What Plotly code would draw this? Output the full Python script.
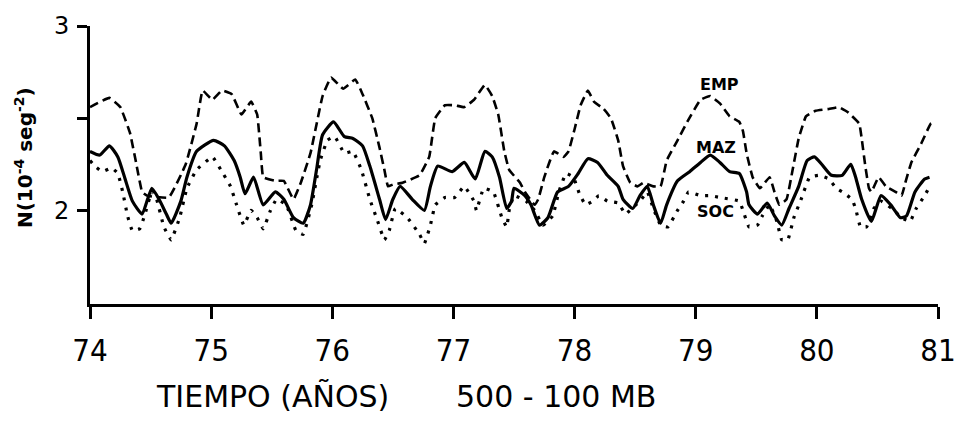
import plotly.graph_objects as go

# ---- data ----
emp_x = [74.00, 74.16, 74.25, 74.33, 74.38, 74.43, 74.47, 74.65, 74.79, 74.88, 74.93, 75.01, 75.09, 75.17,
         75.25, 75.33, 75.38, 75.41, 75.43, 75.53, 75.60, 75.68, 75.74, 75.82, 75.92, 75.99, 76.09, 76.19,
         76.25, 76.33, 76.39, 76.43, 76.46, 76.50, 76.58, 76.72, 76.80, 76.85, 76.93, 77.01, 77.09, 77.17,
         77.26, 77.32, 77.37, 77.42, 77.46, 77.55, 77.59, 77.67, 77.70, 77.75, 77.83, 77.91, 77.95, 78.00,
         78.05, 78.11, 78.16, 78.24, 78.30, 78.36, 78.40, 78.46, 78.52, 78.57, 78.65, 78.71, 78.76, 78.85,
         78.93, 79.04, 79.12, 79.20, 79.28, 79.36, 79.39, 79.42, 79.47, 79.53, 79.61, 79.65, 79.69, 79.75,
         79.80, 79.85, 79.91, 79.99, 80.10, 80.18, 80.26, 80.35, 80.37, 80.40, 80.43, 80.45, 80.51, 80.57,
         80.65, 80.70, 80.73, 80.78, 80.86, 80.94, 80.98]
emp_y = [2.56, 2.61, 2.56, 2.42, 2.26, 2.10, 2.08, 2.07, 2.25, 2.47, 2.65, 2.60, 2.65, 2.63,
         2.52, 2.59, 2.52, 2.31, 2.18, 2.16, 2.16, 2.06, 2.15, 2.31, 2.62, 2.72, 2.66, 2.71,
         2.63, 2.50, 2.34, 2.22, 2.13, 2.14, 2.15, 2.19, 2.29, 2.50, 2.57, 2.57, 2.56, 2.60,
         2.68, 2.62, 2.52, 2.32, 2.22, 2.15, 2.10, 2.03, 2.06, 2.18, 2.32, 2.29, 2.32, 2.44,
         2.57, 2.65, 2.59, 2.55, 2.50, 2.38, 2.24, 2.15, 2.13, 2.15, 2.13, 2.13, 2.27, 2.38,
         2.48, 2.60, 2.62, 2.58, 2.51, 2.48, 2.43, 2.31, 2.18, 2.12, 2.18, 2.10, 2.03, 2.06,
         2.22, 2.39, 2.51, 2.54, 2.55, 2.56, 2.53, 2.47, 2.39, 2.24, 2.12, 2.10, 2.18, 2.13,
         2.10, 2.08, 2.15, 2.26, 2.36, 2.47, 2.48]

maz_x = [74.00, 74.08, 74.16, 74.23, 74.29, 74.35, 74.43, 74.51, 74.57, 74.63, 74.67, 74.75, 74.80, 74.88,
         75.02, 75.11, 75.19, 75.24, 75.28, 75.35, 75.43, 75.53, 75.60, 75.68, 75.76, 75.82, 75.87, 75.92,
         76.01, 76.10, 76.17, 76.25, 76.31, 76.39, 76.44, 76.50, 76.56, 76.66, 76.76, 76.81, 76.87, 76.99,
         77.09, 77.18, 77.26, 77.32, 77.38, 77.44, 77.48, 77.50, 77.59, 77.64, 77.71, 77.78, 77.86, 77.95,
         78.03, 78.11, 78.19, 78.27, 78.36, 78.40, 78.48, 78.54, 78.60, 78.65, 78.71, 78.76, 78.85, 78.95,
         79.04, 79.12, 79.20, 79.28, 79.36, 79.42, 79.44, 79.51, 79.59, 79.65, 79.71, 79.77, 79.85, 79.92,
         79.98, 80.04, 80.12, 80.21, 80.28, 80.32, 80.37, 80.45, 80.53, 80.61, 80.69, 80.74, 80.81, 80.89,
         80.93]
maz_y = [2.32, 2.30, 2.35, 2.29, 2.17, 2.05, 1.98, 2.12, 2.06, 1.98, 1.93, 2.05, 2.18, 2.32,
         2.38, 2.35, 2.27, 2.18, 2.09, 2.18, 2.03, 2.10, 2.06, 1.96, 1.93, 2.03, 2.22, 2.41,
         2.48, 2.40, 2.39, 2.35, 2.24, 2.06, 1.95, 2.06, 2.13, 2.06, 2.00, 2.13, 2.24, 2.21,
         2.26, 2.17, 2.32, 2.29, 2.18, 2.01, 2.05, 2.12, 2.08, 2.03, 1.92, 1.96, 2.10, 2.13,
         2.20, 2.28, 2.26, 2.19, 2.13, 2.06, 2.01, 2.08, 2.13, 2.03, 1.93, 2.03, 2.16, 2.21,
         2.26, 2.30, 2.26, 2.21, 2.20, 2.10, 2.03, 1.98, 2.04, 1.97, 1.92, 2.01, 2.13, 2.27,
         2.29, 2.25, 2.19, 2.19, 2.25, 2.18, 2.06, 1.94, 2.08, 2.03, 1.96, 1.97, 2.10, 2.17,
         2.18]

soc_x = [74.00, 74.04, 74.10, 74.18, 74.23, 74.27, 74.31, 74.35, 74.41, 74.45, 74.51, 74.55, 74.61, 74.67,
         74.74, 74.80, 74.88, 75.01, 75.08, 75.16, 75.21, 75.27, 75.33, 75.38, 75.43, 75.49, 75.54, 75.62,
         75.70, 75.76, 75.83, 75.90, 75.96, 76.02, 76.10, 76.17, 76.24, 76.31, 76.37, 76.43, 76.47, 76.52,
         76.62, 76.72, 76.76, 76.81, 76.85, 76.93, 77.01, 77.09, 77.17, 77.19, 77.25, 77.33, 77.40, 77.44,
         77.46, 77.50, 77.60, 77.67, 77.74, 77.82, 77.87, 77.93, 77.99, 78.04, 78.09, 78.15, 78.20, 78.27,
         78.36, 78.42, 78.49, 78.54, 78.60, 78.65, 78.71, 78.77, 78.85, 78.90, 78.94, 79.04, 79.12, 79.20,
         79.36, 79.39, 79.44, 79.51, 79.55, 79.61, 79.67, 79.71, 79.76, 79.81, 79.87, 79.94, 80.02, 80.10,
         80.16, 80.21, 80.29, 80.32, 80.36, 80.41, 80.47, 80.53, 80.62, 80.70, 80.77, 80.82, 80.89, 80.94]
soc_y = [2.27, 2.24, 2.21, 2.23, 2.20, 2.10, 1.97, 1.89, 1.90, 1.97, 2.10, 2.06, 1.91, 1.84,
         1.96, 2.12, 2.22, 2.29, 2.22, 2.13, 2.03, 1.92, 2.00, 1.96, 1.90, 2.00, 2.06, 2.03,
         1.89, 1.87, 2.03, 2.27, 2.38, 2.40, 2.31, 2.32, 2.22, 2.06, 1.95, 1.84, 1.89, 2.01,
         1.96, 1.87, 1.82, 1.92, 2.03, 2.07, 2.07, 2.13, 2.05, 2.00, 2.12, 2.10, 1.96, 1.91,
         2.00, 2.08, 2.05, 2.00, 1.92, 1.97, 2.10, 2.20, 2.18, 2.09, 2.03, 2.05, 2.08, 2.05,
         2.04, 1.98, 2.02, 2.05, 2.10, 2.01, 1.92, 1.91, 2.00, 2.05, 2.10, 2.08, 2.08, 2.07,
         2.05, 2.00, 1.91, 1.92, 1.97, 2.03, 1.94, 1.84, 1.84, 1.96, 2.06, 2.18, 2.19, 2.17,
         2.12, 2.10, 2.06, 2.01, 1.91, 1.91, 2.01, 2.05, 2.01, 1.96, 1.94, 2.01, 2.08, 2.14]

x_ticks = [74, 75, 76, 77, 78, 79, 80, 81]
y_ticks = [2, 2.5, 3]
y_ticktext = ["2", "", "3"]

series_labels = ["EMP", "MAZ", "SOC"]
label_x = [79.20, 79.17, 79.16]
label_y = [2.68, 2.34, 1.995]

BLACK = "#000000"
fig = go.Figure()
fig.add_trace(go.Scatter(x=emp_x, y=emp_y, mode="lines", name="EMP",
                         line=dict(color=BLACK, width=2.6, dash="9px,5px", shape="spline", smoothing=0.3)))
fig.add_trace(go.Scatter(x=maz_x, y=maz_y, mode="lines", name="MAZ",
                         line=dict(color=BLACK, width=3.2, shape="spline", smoothing=0.5)))
fig.add_trace(go.Scatter(x=soc_x, y=soc_y, mode="lines", name="SOC",
                         line=dict(color=BLACK, width=3.2, dash="3px,7px", shape="spline", smoothing=0.3)))

for t, lx, ly in zip(series_labels, label_x, label_y):
    fig.add_annotation(x=lx, y=ly, text="<b>%s</b>" % t, showarrow=False,
                       font=dict(family="DejaVu Sans, Arial", size=16, color=BLACK))

fig.add_annotation(xref="paper", yref="paper", x=0.076, y=-0.333, xanchor="left", yanchor="middle",
                   text="TIEMPO (AÑOS)&nbsp;&nbsp;&nbsp;&nbsp;&nbsp;&nbsp;&nbsp;500 - 100 MB", showarrow=False,
                   font=dict(family="DejaVu Sans, Arial", size=30, color=BLACK))
fig.add_annotation(xref="paper", yref="paper", x=-0.078, y=0.528, xanchor="center", yanchor="middle",
                   text="<b>N(10<sup>-4</sup> seg<sup>-2</sup>)</b>", textangle=-90, showarrow=False,
                   font=dict(family="DejaVu Sans, Arial", size=20, color=BLACK))

fig.update_layout(
    width=968, height=426,
    margin=dict(l=90, r=23, t=16, b=122),
    paper_bgcolor="white", plot_bgcolor="white",
    showlegend=False,
    xaxis=dict(range=[74, 81], tickvals=x_ticks, ticktext=[str(v) for v in x_ticks],
               showgrid=False, zeroline=False, showline=True, linecolor=BLACK, linewidth=3,
               ticks="outside", ticklen=12, tickwidth=2.5, tickcolor=BLACK, ticklabelstandoff=5,
               tickfont=dict(family="DejaVu Sans Condensed, DejaVu Sans, Arial", size=31, color=BLACK)),
    yaxis=dict(range=[1.492, 3.0], tickvals=y_ticks, ticktext=y_ticktext,
               showgrid=False, zeroline=False, showline=True, linecolor=BLACK, linewidth=3,
               ticks="outside", ticklen=10, tickwidth=2.5, tickcolor=BLACK, ticklabelstandoff=3,
               tickfont=dict(family="DejaVu Sans, Arial", size=24, color=BLACK)),
)

fig.write_html("out.html")
